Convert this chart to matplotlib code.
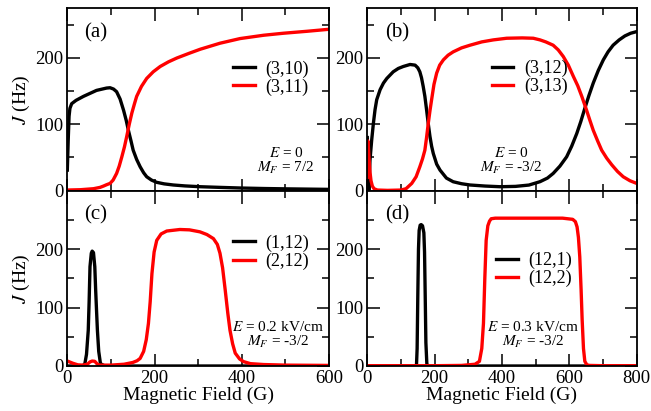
import numpy as np
import matplotlib
matplotlib.use("Agg")
import matplotlib.pyplot as plt

plt.rcParams['font.family'] = ['Liberation Serif', 'DejaVu Serif']
plt.rcParams['mathtext.fontset'] = 'stix'

# (a) E = 0, MF = 7/2
a_B_310 = [0, 2, 4, 6, 10, 20, 37, 67, 90, 98, 106, 113, 121, 129, 135, 140, 146, 151,
           159, 167, 175, 182, 193, 205, 222, 243, 270, 305, 350, 400, 450, 500, 550, 600]
a_J_310 = [31, 75, 112, 124, 131, 136, 142, 151, 154.5, 155, 153, 149, 138, 121, 106, 91, 75, 61,
           47, 36, 27, 21, 16, 12.6, 10.3, 8.6, 7.2, 6, 5, 4, 3.3, 2.8, 2.4, 2]
a_B_311 = [0, 30, 60, 75, 83, 90, 98, 105, 113, 119, 125, 131, 136, 142, 148, 154, 159, 170,
           182, 197, 213, 232, 251, 280, 305, 320, 350, 396, 450, 495, 550, 600]
a_J_311 = [1, 1.5, 3, 5, 7, 9, 11, 16, 26, 37, 51, 66, 81, 100, 117, 131, 142, 157,
           169, 179, 187, 194, 199.7, 207, 213, 216, 222, 229, 234, 237, 240, 243]

# (b) E = 0, MF = -3/2
b_B_312 = [0, 1.5, 3, 4.5, 8, 13, 18, 23, 28, 38, 48, 58, 77, 92, 107, 127, 142, 150, 156, 161,
           166, 171, 176, 181, 186, 191, 196, 206, 216, 235, 255, 280, 305, 350, 394, 440, 480,
           513, 535, 552, 572, 592, 607, 622, 634, 646, 658, 671, 686, 701, 715, 730, 748, 765,
           782, 800]
b_J_312 = [80, 60, 20, 0, 46, 76, 101, 122, 137, 152, 162, 169, 179, 184, 187, 190, 189, 185, 179, 170,
           157, 142, 122, 101, 82, 67, 56, 40, 31, 19, 13.5, 10.5, 8.6, 7, 6, 6.5, 8.5,
           13.6, 19, 26, 37, 51, 67, 86, 104, 124, 143, 162, 181, 197, 209, 219, 227, 233,
           237, 239.5]
b_B_313 = [0, 1.5, 3, 5, 8, 11, 15, 20, 30, 60, 100, 115, 132, 145, 156, 164, 171, 176, 181, 186,
           191, 198, 206, 215, 226, 240, 255, 280, 305, 340, 374, 414, 460, 493, 513, 530, 552,
           567, 582, 597, 612, 625, 637, 651, 661, 671, 684, 696, 711, 726, 743, 760, 780, 800]
b_J_313 = [20, 75, 68, 50, 28, 15, 7, 3, 1, 0.5, 1, 3, 11, 21, 36, 48, 61, 80, 101, 120,
           137, 160, 177, 189, 197, 204, 209, 215, 219, 224, 227, 229.5, 230, 229.5, 227, 224, 219,
           212, 202, 189, 172, 158, 142, 121.5, 106, 91, 75, 61, 49, 39, 29, 21, 15, 11]

# (c) E = 0.2 kV/cm, MF = -3/2
c_B_112 = [0, 20, 35, 40, 44, 48, 50, 52, 55, 57, 60, 63, 65, 67, 69, 72, 76, 85, 100, 600]
c_J_112 = [0, 0, 0.5, 3, 20, 61, 110, 170, 193, 196.6, 194, 170, 130, 95, 61, 25, 4, 0.5, 0, 0]
c_B_212 = [0, 5, 13, 24, 35, 46, 52, 57, 63, 69, 75, 100, 130, 150, 160, 167, 175, 181, 186, 190,
           194, 199, 205, 215, 228, 258, 280, 304, 320, 335, 344, 350, 356, 362, 368, 373, 379,
           385, 395, 404, 420, 450, 500, 600]
c_J_212 = [8.5, 7, 4.6, 2, 1.5, 3, 7, 8.5, 8, 3, 1.5, 1.5, 3, 6, 9, 13, 25, 45, 73, 110,
           158, 195, 215, 226, 231, 233.6, 233, 229.6, 225, 218, 208, 193, 168, 130, 90, 61, 38,
           22, 12, 7.5, 4, 2.5, 1.5, 1]

# (d) E = 0.3 kV/cm, MF = -3/2
d_B_121 = [0, 140, 146, 148, 150, 152, 154, 157, 160, 164, 168, 170, 172, 174, 177, 185, 800]
d_J_121 = [0, 0, 0, 30, 120, 200, 232, 241, 242, 240, 228, 195, 120, 40, 2, 0, 0]
d_B_122 = [0, 100, 200, 280, 320, 333, 340, 345, 349, 353, 358, 363, 368, 380, 420, 500, 580,
           610, 618, 623, 627, 631, 635, 638, 642, 646, 652, 660, 700, 800]
d_J_122 = [0.5, 0.5, 0.5, 1, 3, 8, 30, 73, 150, 215, 240, 248, 252, 253, 253, 253, 253,
           251, 247, 238, 220, 187, 130, 80, 30, 8, 2, 1, 0.5, 0.5]

panels = [
    dict(pos=[0.1034, 0.536, 0.402, 0.4445], xmax=600, ymax=275, tag='(a)',
         curves=[(a_B_310, a_J_310, '(3,10)'), (a_B_311, a_J_311, '(3,11)')],
         leg=(0.633, 0.617), note=(0.835, 0.208, 0.124), E='0', MF='7/2'),
    dict(pos=[0.5642, 0.536, 0.4138, 0.4445], xmax=800, ymax=275, tag='(b)',
         curves=[(b_B_312, b_J_312, '(3,12)'), (b_B_313, b_J_313, '(3,13)')],
         leg=(0.462, 0.62), note=(0.535, 0.208, 0.124), E='0', MF='-3/2'),
    dict(pos=[0.1034, 0.1095, 0.402, 0.4265], xmax=600, ymax=300, tag='(c)',
         curves=[(c_B_112, c_J_112, '(1,12)'), (c_B_212, c_J_212, '(2,12)')],
         leg=(0.633, 0.649), note=(0.805, 0.225, 0.139), E='0.2 kV/cm', MF='-3/2'),
    dict(pos=[0.5642, 0.1095, 0.4138, 0.4265], xmax=800, ymax=300, tag='(d)',
         curves=[(d_B_121, d_J_121, '(12,1)'), (d_B_122, d_J_122, '(12,2)')],
         leg=(0.478, 0.55), note=(0.614, 0.225, 0.139), E='0.3 kV/cm', MF='-3/2'),
]

fig = plt.figure(figsize=(6.51, 4.11), dpi=100)

for i, p in enumerate(panels):
    ax = fig.add_axes(p['pos'])
    for (B, J, lab), col in zip(p['curves'], ['black', 'red']):
        ax.plot(B, J, color=col, lw=2.4, label=lab)

    ax.set_xlim(0, p['xmax'])
    ax.set_ylim(0, p['ymax'])
    ax.set_xticks(np.arange(0, p['xmax'] + 1, 200))
    ax.set_xticks(np.arange(100, p['xmax'], 200), minor=True)
    ax.set_yticks([0, 100, 200])
    ax.set_yticks([50, 150, 250], minor=True)
    ax.tick_params(which='both', direction='in', top=True, right=True, labelsize=13.5, width=1.1)
    ax.tick_params(which='major', length=9, pad=3)
    ax.tick_params(which='minor', length=5)
    for s in ax.spines.values():
        s.set_linewidth(1.3)

    if i < 2:
        ax.tick_params(labelbottom=False)
    else:
        ax.set_xlabel('Magnetic Field (G)', fontsize=14, labelpad=0)
    if i % 2 == 0:
        ax.set_ylabel(r'$J$ (Hz)', fontsize=14, labelpad=2)

    ax.text(0.11, 0.865, p['tag'], transform=ax.transAxes, fontsize=15,
            ha='center', va='center')
    nx, ny1, ny2 = p['note']
    ax.text(nx, ny1, r'$E$ = ' + p['E'], transform=ax.transAxes, fontsize=11,
            ha='center', va='center')
    ax.text(nx, ny2, r'$M_F$ = ' + p['MF'], transform=ax.transAxes, fontsize=11,
            ha='center', va='center')

    ax.legend(loc='center left', bbox_to_anchor=p['leg'], frameon=False, fontsize=13,
              handlelength=1.2, handletextpad=0.6, borderpad=0, borderaxespad=0,
              labelspacing=0.05)

fig.savefig('out.png', dpi=100)
